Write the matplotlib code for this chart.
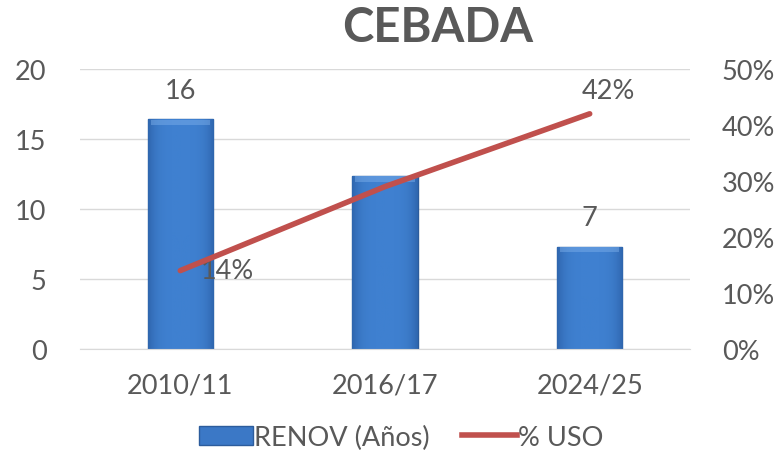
import matplotlib
matplotlib.use("Agg")
import matplotlib.pyplot as plt
from matplotlib.patches import Patch
from matplotlib.lines import Line2D
import numpy as np

# data
campanas = ["2010/11", "2016/17", "2024/25"]
renov_anos = [16.4, 12.35, 7.3]
renov_labels = ["16", "", "7"]
uso_pct = [14, 29, 42]
uso_labels = ["14%", "", "42%"]

txt = "#595959"
blue = "#3B78C6"
red = "#C0504D"
plt.rcParams["font.family"] = ["Lato", "DejaVu Sans"]
fs = 19.5

fig = plt.figure(figsize=(7.81, 4.56), dpi=100)
ax = fig.add_axes([80 / 781, 1 - 350 / 456, 610 / 781, 280 / 456])
ax2 = ax.twinx()

x = np.arange(len(campanas))
bars = ax.bar(x, renov_anos, width=0.32, color=blue, edgecolor="#2C5C9C", linewidth=1.0, zorder=2)

# horizontal shading inside each bar
grad = np.linspace(0, 1, 64)
shade = 1 - 0.5 * (2 * grad - 1) ** 4
cmap = matplotlib.colors.LinearSegmentedColormap.from_list("b", ["#1F4C8C", "#3F80D0"])
for b in bars:
    x0, w, h = b.get_x(), b.get_width(), b.get_height()
    im = ax.imshow(shade[None, :], cmap=cmap, aspect="auto", extent=(x0, x0 + w, 0, h), zorder=2, vmin=0, vmax=1)
    im.set_clip_path(b)
    ax.fill_between([x0 + 0.015, x0 + w - 0.015], h - 0.4, h - 0.02, color="#80B2EC", alpha=0.45, zorder=3, lw=0)

for xi, v, lab in zip(x, renov_anos, renov_labels):
    if lab:
        ax.text(xi, v + 1.2, lab, ha="center", va="bottom", fontsize=fs, color=txt)

ax.set_xlim(-0.49, 2.49)
ax.set_ylim(0, 20)
ax.set_yticks([0, 5, 10, 15, 20])
ax.set_xticks(x)
ax.set_xticklabels(campanas)
ax.grid(axis="y", color="#D9D9D9", linewidth=1.0, zorder=0)
ax.set_axisbelow(True)

ax2.plot(x, uso_pct, color=red, linewidth=4, solid_capstyle="round", zorder=4)
ax2.set_ylim(0, 50)
ax2.set_yticks([0, 10, 20, 30, 40, 50])
ax2.set_yticklabels([f"{t}%" for t in range(0, 60, 10)])
ax2.text(x[0] + 0.1, uso_pct[0], uso_labels[0], ha="left", va="center", fontsize=fs, color=txt)
ax2.text(x[2] + 0.09, uso_pct[2] + 2.0, uso_labels[2], ha="center", va="bottom", fontsize=fs, color=txt)

for a in (ax, ax2):
    for s in a.spines.values():
        s.set_visible(False)
    a.tick_params(length=0, labelsize=fs, labelcolor=txt)
ax.tick_params(axis="y", pad=24)
ax2.tick_params(axis="y", pad=23)
ax.tick_params(axis="x", pad=17)
ax.spines["bottom"].set_visible(True)
ax.spines["bottom"].set_color("#D9D9D9")

fig.text(438 / 781, 1 - 28 / 456, "CEBADA", ha="center", va="center", fontsize=34,
         fontweight="bold", color=txt)

handles = [Patch(facecolor=blue, edgecolor="#2C5C9C"), Line2D([0], [0], color=red, lw=4)]
fig.legend(handles, ["RENOV (Años)", "% USO"], loc="center", bbox_to_anchor=(401 / 781, 1 - 438 / 456),
           ncol=2, frameon=False, fontsize=fs, labelcolor=txt, handlelength=2.0, handletextpad=0.05,
           columnspacing=1.2)

fig.savefig("out.png", dpi=100)
